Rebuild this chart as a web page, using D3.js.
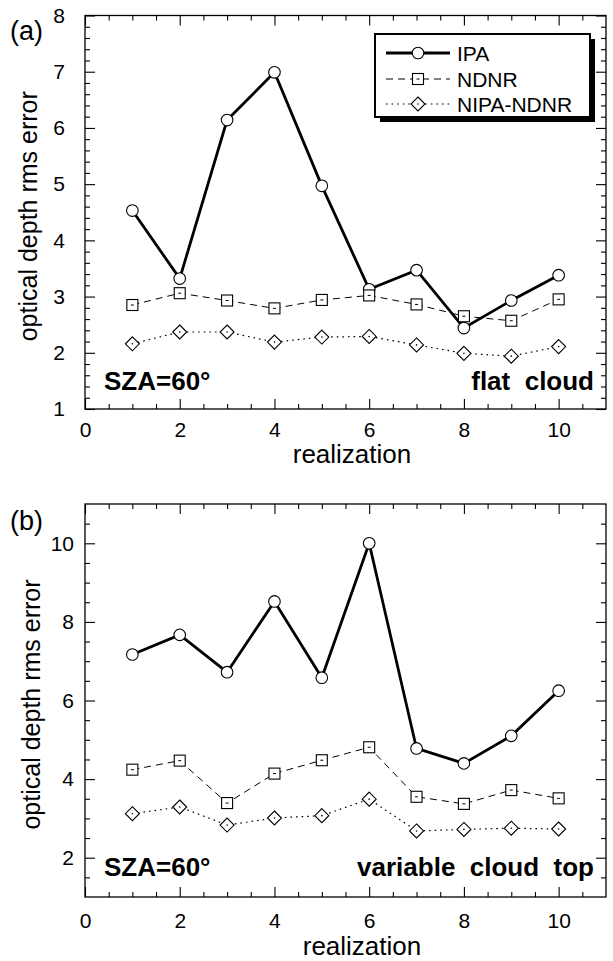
<!DOCTYPE html>
<html>
<head>
<meta charset="utf-8">
<script src="https://cdn.jsdelivr.net/npm/d3@7"></script>
<style>
  html, body { margin: 0; padding: 0; background: #fff; }
  svg { display: block; }
  text { font-family: "Liberation Sans", Arial, Helvetica, sans-serif; fill: #000; }
</style>
</head>
<body>
<svg id="fig" width="613" height="961"></svg>
<script>
// realization index shared by both panels
const realization = [1, 2, 3, 4, 5, 6, 7, 8, 9, 10];

// (a) flat cloud
const ipaFlat  = [4.53, 3.32, 6.14, 6.99, 4.97, 3.13, 3.47, 2.44, 2.93, 3.38];
const ndnrFlat = [2.85, 3.06, 2.93, 2.79, 2.94, 3.02, 2.86, 2.65, 2.57, 2.95];
const nipaFlat = [2.16, 2.37, 2.37, 2.19, 2.28, 2.29, 2.14, 1.99, 1.94, 2.11];

// (b) variable cloud top
const ipaVar  = [7.17, 7.67, 6.72, 8.52, 6.58, 10.0, 4.78, 4.40, 5.10, 6.25];
const ndnrVar = [4.24, 4.47, 3.39, 4.14, 4.48, 4.81, 3.55, 3.37, 3.72, 3.51];
const nipaVar = [3.12, 3.29, 2.83, 3.01, 3.07, 3.49, 2.68, 2.72, 2.75, 2.73];

// axis tick values
const xMajorTicks = [0, 2, 4, 6, 8, 10];
const yMajorTicksA = [1, 2, 3, 4, 5, 6, 7, 8];
const yMajorTicksB = [2, 4, 6, 8, 10];

const seriesNames = ["IPA", "NDNR", "NIPA-NDNR"];

const svg = d3.select("#fig");

const styles = {
  IPA:        { width: 2.8, dash: null,  marker: "circle" },
  NDNR:       { width: 1.0, dash: "7,5", marker: "square" },
  "NIPA-NDNR":{ width: 1.2, dash: "1.6,4", marker: "diamond" }
};

function drawMarker(g, kind, x, y) {
  if (kind === "circle") {
    g.append("circle").attr("cx", x).attr("cy", y).attr("r", 5.8)
      .attr("fill", "#fff").attr("stroke", "#000").attr("stroke-width", 1.1);
  } else if (kind === "square") {
    g.append("rect").attr("x", x - 5.5).attr("y", y - 5.5).attr("width", 11).attr("height", 11)
      .attr("fill", "#fff").attr("stroke", "#000").attr("stroke-width", 1.1);
    g.append("line").attr("x1", x - 1.5).attr("x2", x + 1.5).attr("y1", y).attr("y2", y)
      .attr("stroke", "#000").attr("stroke-width", 1);
  } else {
    const s = 7;
    g.append("path").attr("d", `M${x},${y - s}L${x + s},${y}L${x},${y + s}L${x - s},${y}Z`)
      .attr("fill", "#fff").attr("stroke", "#000").attr("stroke-width", 1.1);
    g.append("circle").attr("cx", x).attr("cy", y).attr("r", 0.8).attr("fill", "#000");
  }
}

function panel(cfg) {
  const x = d3.scaleLinear().domain([0, 11]).range([85, 606]);
  const y = d3.scaleLinear().domain(cfg.yDomain).range(cfg.yRange);
  const g = svg.append("g");
  const [x0, x1] = x.range();
  const [yb, yt] = cfg.yRange;

  // minor and major ticks, inward on all four sides
  const xMinor = d3.range(0, 11.001, 0.5).filter(v => !xMajorTicks.includes(v) && v > 0 && v < 11);
  const yMinor = d3.range(cfg.yDomain[0], cfg.yDomain[1] + 1e-6, cfg.yMinorStep)
    .map(v => +v.toFixed(3))
    .filter(v => !cfg.yMajor.includes(v) && v > cfg.yDomain[0] && v < cfg.yDomain[1]);

  const axes = [
    [d3.axisBottom(x).tickValues(xMinor).tickSize(-5).tickFormat(""), `translate(0,${yb})`],
    [d3.axisTop(x).tickValues(xMinor).tickSize(-5).tickFormat(""), `translate(0,${yt})`],
    [d3.axisTop(x).tickValues(xMajorTicks).tickSize(-10).tickFormat(""), `translate(0,${yt})`],
    [d3.axisLeft(y).tickValues(yMinor).tickSize(-5).tickFormat(""), `translate(${x0},0)`],
    [d3.axisRight(y).tickValues(yMinor).tickSize(-5).tickFormat(""), `translate(${x1},0)`],
    [d3.axisRight(y).tickValues(cfg.yMajor).tickSize(-10).tickFormat(""), `translate(${x1},0)`]
  ];
  axes.forEach(([ax, tr]) => {
    const a = g.append("g").attr("transform", tr).call(ax);
    a.select(".domain").remove();
    a.selectAll("line").attr("stroke", "#000").attr("stroke-width", 1.1);
  });

  // labelled axes
  const xb = g.append("g").attr("transform", `translate(0,${yb})`)
    .call(d3.axisBottom(x).tickValues(xMajorTicks).tickSize(-10).tickPadding(cfg.xPad).tickFormat(d3.format("d")));
  xb.select(".domain").remove();
  xb.selectAll("line").attr("stroke", "#000").attr("stroke-width", 1.1);
  xb.selectAll("text").attr("font-size", 21).attr("fill", "#000")
    .attr("font-family", "Liberation Sans, Arial, sans-serif");

  const yl = g.append("g").attr("transform", `translate(${x0},0)`)
    .call(d3.axisLeft(y).tickValues(cfg.yMajor).tickSize(-10).tickPadding(cfg.yPad).tickFormat(d3.format("d")));
  yl.select(".domain").remove();
  yl.selectAll("line").attr("stroke", "#000").attr("stroke-width", 1.1);
  yl.selectAll("text").attr("font-size", 21).attr("fill", "#000")
    .attr("font-family", "Liberation Sans, Arial, sans-serif");

  // frame
  g.append("rect").attr("x", x0).attr("y", yt).attr("width", x1 - x0).attr("height", yb - yt)
    .attr("fill", "none").attr("stroke", "#000").attr("stroke-width", 1.3);

  // series
  cfg.series.forEach((vals, i) => {
    const st = styles[seriesNames[i]];
    const line = d3.line().x((d, k) => x(realization[k])).y(d => y(d));
    g.append("path").datum(vals).attr("d", line)
      .attr("fill", "none").attr("stroke", "#000").attr("stroke-width", st.width)
      .attr("stroke-dasharray", st.dash).attr("stroke-linejoin", "miter");
  });
  cfg.series.forEach((vals, i) => {
    const st = styles[seriesNames[i]];
    vals.forEach((v, k) => drawMarker(g, st.marker, x(realization[k]), y(v)));
  });

  // panel letter
  g.append("text").attr("x", 10).attr("y", cfg.letterY).attr("font-size", 27).text(cfg.letter);

  // y title
  g.append("text")
    .attr("transform", `translate(${cfg.titleX},${(yt + yb) / 2 + 4}) rotate(-90)`)
    .attr("text-anchor", "middle").attr("font-size", 25)
    .text("optical depth rms error");

  // x title
  g.append("text").attr("x", cfg.xTitleX).attr("y", cfg.xTitleY)
    .attr("text-anchor", "middle").attr("font-size", 26).text("realization");

  // annotations
  g.append("text").attr("x", 104).attr("y", cfg.annoY).attr("font-size", 26)
    .attr("font-weight", "bold").text("SZA=60°");
  g.append("text").attr("x", 594).attr("y", cfg.annoY).attr("font-size", 26)
    .attr("font-weight", "bold").attr("text-anchor", "end")
    .attr("xml:space", "preserve").style("white-space", "pre").text(cfg.caseLabel);

  return { g, x, y };
}

panel({
  yDomain: [1, 8], yRange: [409, 15.5], yMinorStep: 0.2, yMajor: yMajorTicksA,
  xPad: 13, yPad: 20, letter: "(a)", letterY: 40, titleX: 37,
  xTitleX: 352, xTitleY: 463, annoY: 390, caseLabel: "flat  cloud",
  series: [ipaFlat, ndnrFlat, nipaFlat]
});

panel({
  yDomain: [1, 11], yRange: [897, 504], yMinorStep: 0.5, yMajor: yMajorTicksB,
  xPad: 16, yPad: 11, letter: "(b)", letterY: 530, titleX: 40,
  xTitleX: 362, xTitleY: 955, annoY: 876, caseLabel: "variable  cloud  top",
  series: [ipaVar, ndnrVar, nipaVar]
});

// legend for panel (a)
const lg = svg.append("g");
lg.append("rect").attr("x", 380).attr("y", 39).attr("width", 215).attr("height", 83).attr("fill", "#000");
lg.append("rect").attr("x", 375).attr("y", 34).attr("width", 215).attr("height", 83)
  .attr("fill", "#fff").attr("stroke", "#000").attr("stroke-width", 2);
const legendRows = [53, 79, 104];
seriesNames.forEach((name, i) => {
  const st = styles[name];
  const yy = legendRows[i];
  lg.append("line").attr("x1", 386).attr("x2", 450).attr("y1", yy).attr("y2", yy)
    .attr("stroke", "#000").attr("stroke-width", st.width).attr("stroke-dasharray", st.dash);
  drawMarker(lg, st.marker, 418, yy);
  lg.append("text").attr("x", 457).attr("y", yy + 8).attr("font-size", 21).text(name);
});
</script>
</body>
</html>
